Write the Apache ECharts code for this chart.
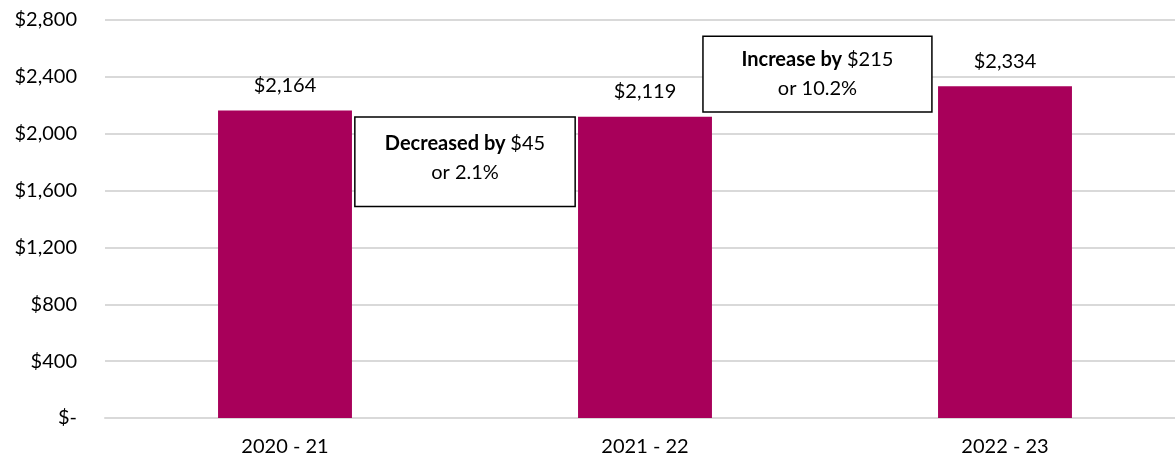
<!DOCTYPE html>
<html lang="en">
<head>
<meta charset="UTF-8">
<title>Chart</title>
<style>
  html, body { margin: 0; padding: 0; background: #fff; }
  #main { width: 1175px; height: 458px; }
</style>
</head>
<body>
<div id="main"></div>
<script src="https://cdn.jsdelivr.net/npm/echarts@6/dist/echarts.min.js"></script>
<script>
const years = ['2020 - 21', '2021 - 22', '2022 - 23'];
const amounts = [2164, 2119, 2334];
const yTicks = [0, 400, 800, 1200, 1600, 2000, 2400, 2800];

const FONT = 'Lato, "Open Sans", sans-serif';
const FS = 20;
const fmt = v => v === 0 ? '$-' : '$' + v.toLocaleString('en-US');

const chart = echarts.init(document.getElementById('main'));
chart.setOption({
  animation: false,
  textStyle: { fontFamily: FONT },
  grid: { left: 105, width: 1080, top: 20, bottom: 40, outerBoundsMode: 'none', containLabel: false },
  xAxis: {
    type: 'category',
    data: years,
    axisTick: { show: false },
    axisLine: { lineStyle: { color: '#d9d9d9', width: 2 } },
    axisLabel: { color: '#000', fontSize: FS, margin: 19, fontFamily: FONT }
  },
  yAxis: {
    type: 'value',
    min: yTicks[0],
    max: yTicks[yTicks.length - 1],
    interval: 400,
    axisLine: { show: false },
    axisTick: { show: false },
    splitLine: { lineStyle: { color: '#d9d9d9', width: 2 } },
    axisLabel: { color: '#000', fontSize: FS, margin: 28, formatter: fmt, fontFamily: FONT }
  },
  series: [{
    type: 'bar',
    data: amounts,
    barWidth: '37.2%',
    itemStyle: { color: '#A8005A' },
    label: {
      show: true,
      position: 'top',
      distance: 15,
      color: '#000',
      fontSize: FS,
      fontFamily: FONT,
      formatter: p => fmt(p.value)
    }
  }]
});

// annotation boxes placed from axis coordinates (fractional category positions)
const c0 = chart.convertToPixel({ gridIndex: 0 }, [0, 0]);
const c1 = chart.convertToPixel({ gridIndex: 0 }, [1, 0]);
const band = c1[0] - c0[0];
const px = f => c0[0] + f * band;
const py = v => chart.convertToPixel({ gridIndex: 0 }, [0, v])[1];

function box(fl, fr, topVal, botVal, dy, bold, rest, line2) {
  const x0 = px(fl), x1 = px(fr), y0 = py(topVal), y1 = py(botVal);
  return {
    type: 'group',
    z: 100,
    children: [
      {
        type: 'rect',
        z: 100,
        shape: { x: x0, y: y0, width: x1 - x0, height: y1 - y0 },
        style: { fill: '#fff', stroke: '#000', lineWidth: 1.5 }
      },
      {
        type: 'text',
        z: 101,
        x: (x0 + x1) / 2,
        y: (y0 + y1) / 2 + dy,
        style: {
          text: '{b|' + bold + '}{n|' + rest + '}\n{n|' + line2 + '}',
          align: 'center',
          verticalAlign: 'middle',
          rich: {
            b: { fontSize: FS, fontWeight: 'bold', fontFamily: FONT, color: '#000', lineHeight: 29 },
            n: { fontSize: FS, fontFamily: FONT, color: '#000', lineHeight: 29 }
          }
        }
      }
    ]
  };
}

chart.setOption({
  graphic: [
    box(0.194, 0.806, 2118, 1488, -4, 'Decreased by ', '$45', 'or 2.1%'),
    box(1.161, 1.797, 2686, 2153, 0, 'Increase by ', '$215', 'or 10.2%')
  ]
});
</script>
</body>
</html>
